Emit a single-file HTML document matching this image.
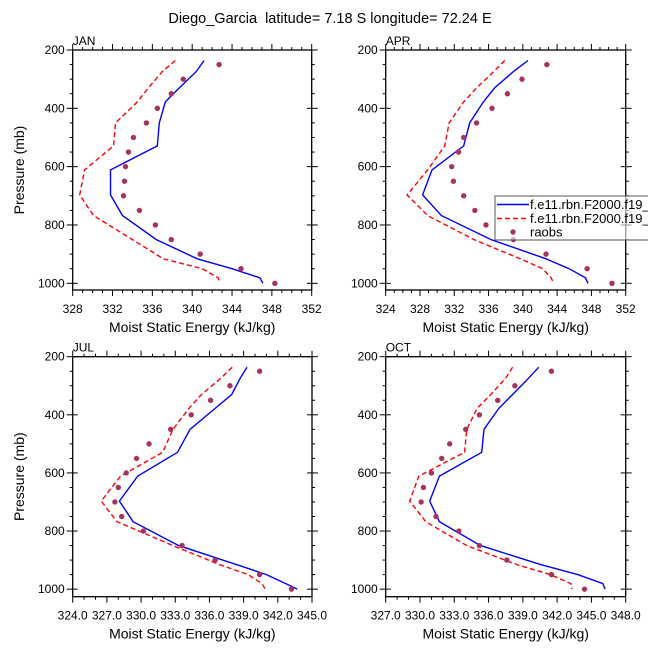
<!DOCTYPE html>
<html><head><meta charset="utf-8"><style>
html,body{margin:0;padding:0;background:#fff;}
svg{display:block;font-family:"Liberation Sans",Arial,sans-serif;}
</style></head><body>
<svg id="fig" width="648" height="649" viewBox="0 0 648 649" xmlns="http://www.w3.org/2000/svg">
<text x="330" y="23" font-size="14.5" text-anchor="middle" style="white-space:pre" xml:space="preserve">Diego_Garcia  latitude= 7.18 S longitude= 72.24 E</text>
</svg>
<script>
const modelLevels=[236,274,330,378,450,529,611,697,768,850,916,950,981,1000];
const obsLevels=[250,300,350,400,450,500,550,600,650,700,750,800,850,900,950,1000];
const janBlue=[341.2,340.4,338.7,337.3,336.7,336.5,331.8,331.8,333.0,336.4,340.5,344.0,346.8,347.1];
const janRed=[338.3,337.0,335.6,334.5,332.3,332.1,329.2,328.7,330.1,334.0,337.1,341.0,342.6,342.8];
const janObs=[342.7,339.1,337.9,336.5,335.4,334.1,333.6,333.3,333.2,333.1,334.7,336.3,337.9,340.8,344.9,348.3];
const aprBlue=[340.6,338.9,336.7,335.4,333.8,333.1,329.4,328.3,330.5,336.3,342.7,345.4,347.3,347.6];
const aprRed=[337.9,336.6,334.6,333.1,331.4,330.9,328.9,326.5,328.9,334.3,339.7,342.3,343.3,343.6];
const aprObs=[342.8,339.9,338.2,336.4,334.6,333.1,332.5,331.7,331.9,333.1,334.4,335.7,338.9,342.7,347.5,350.4];
const julBlue=[339.3,338.7,337.95,336.5,334.3,333.2,329.7,328.1,329.3,333.3,338.4,341.0,342.7,343.7];
const julRed=[338.0,337.0,335.3,334.2,332.8,331.9,328.2,326.5,327.9,332.8,336.9,339.4,340.6,340.9];
const julObs=[340.4,337.8,336.1,334.4,332.6,330.7,329.6,328.7,328.0,327.7,328.3,330.2,333.6,336.5,340.4,343.2];
const octBlue=[340.4,339.5,338.1,336.9,335.6,335.4,331.7,330.85,331.7,335.3,340.6,343.8,346.0,346.2];
const octRed=[338.1,337.5,336.2,335.0,334.1,333.9,329.9,329.1,330.5,334.1,338.5,341.4,343.2,343.3];
const octObs=[341.5,338.3,336.8,335.2,334.0,332.6,331.9,331.0,330.3,330.1,331.4,333.4,335.2,337.6,341.5,344.4];
const yTicks=[200,400,600,800,1000];
const janX=[328,332,336,340,344,348,352];
const aprX=[324,328,332,336,340,344,348,352];
const julX=[324,327,330,333,336,339,342,345];
const octX=[327,330,333,336,339,342,345,348];

const NS="http://www.w3.org/2000/svg";
const svg=document.getElementById('fig');
function mk(tag,attrs,parent){const e=document.createElementNS(NS,tag);for(const k in attrs)e.setAttribute(k,attrs[k]);(parent||svg).appendChild(e);return e;}

function panel(p){
  const g=mk('g',{});
  
  
  const xs=v=>p.x0+(v-p.xmin)/(p.xmax-p.xmin)*(p.x1-p.x0);
  const ys=v=>p.y0+(v-200)/(p.pbot-200)*(p.y1-p.y0);
  const L=p.x0,R=p.x1,T=p.y0,B=p.y1;
  const tg=mk('g',{stroke:'#000','stroke-width':1},g);
  for(let v=p.xmin;v<=p.xmax+1e-6;v+=p.minor){
    const isMaj=Math.abs(((v-p.xmin)/p.step)-Math.round((v-p.xmin)/p.step))<1e-6;
    const len=isMaj?6:3;const x=xs(v);
    mk('line',{x1:x,x2:x,y1:B,y2:B+len},tg);
    mk('line',{x1:x,x2:x,y1:T,y2:T-len},tg);
  }
  for(let v=200;v<=1000;v+=50){
    const isMaj=v%200===0;const y=ys(v);
    const len=isMaj?6:3;
    mk('line',{x1:L-len,x2:L+(isMaj?5:0),y1:y,y2:y},tg);
    mk('line',{x1:R+len,x2:R-(isMaj?5:0),y1:y,y2:y},tg);
  }
  mk('rect',{x:L,y:T,width:R-L,height:B-T,fill:'none',stroke:'#000','stroke-width':1.3},g);
  p.xt.forEach(v=>{const t=mk('text',{x:xs(v),y:B+23,'font-size':12,'text-anchor':'middle'},g);t.textContent=p.fmt(v);
    
    });
  yTicks.forEach(v=>{const t=mk('text',{x:L-8,y:ys(v)+4,'font-size':12,'text-anchor':'end'},g);t.textContent=v;
    
    });
  const pt=mk('text',{x:L,y:T-5,'font-size':12},g);pt.textContent=p.name;
  
  
  const xl=mk('text',{x:(L+R)/2,y:B+42,'font-size':14,'text-anchor':'middle'},g);xl.textContent='Moist Static Energy (kJ/kg)';
  
  
  if(p.ylab){const yl=mk('text',{x:0,y:0,'font-size':14,'text-anchor':'middle',transform:`translate(24,${(T+B)/2}) rotate(-90)`},g);yl.textContent='Pressure (mb)';
    
    }
  const line=(vals,col,dash,nm)=>{const d=vals.map((v,i)=>(i?'L':'M')+xs(v).toFixed(1)+' '+ys(modelLevels[i]).toFixed(1)).join(' ');
    const e=mk('path',{d:d,fill:'none',stroke:col,'stroke-width':1.4,'stroke-dasharray':dash||''},g);
    
    };
  line(p.red,'#f00','5,3','model-line-red');
  line(p.blue,'#00f',null,'model-line-blue');
  p.obs.forEach((v,i)=>{const c=mk('circle',{cx:xs(v),cy:ys(obsLevels[i]),r:2.7,fill:'#a8325e'},g);
    
    });
}
const f0=v=>String(v), f1=v=>v.toFixed(1);
panel({name:'JAN',x0:72.7,x1:311.7,y0:50,y1:290,pbot:1023,xmin:328,xmax:352,step:4,minor:1,xt:janX,fmt:f0,blue:janBlue,red:janRed,obs:janObs,ylab:true});
panel({name:'APR',x0:385.7,x1:625.7,y0:50,y1:290,pbot:1023,xmin:324,xmax:352,step:4,minor:1,xt:aprX,fmt:f0,blue:aprBlue,red:aprRed,obs:aprObs,ylab:false});
panel({name:'JUL',x0:72.7,x1:312,y0:356.7,y1:596.7,pbot:1026,xmin:324,xmax:345,step:3,minor:1,xt:julX,fmt:f1,blue:julBlue,red:julRed,obs:julObs,ylab:true});
panel({name:'OCT',x0:385.7,x1:625.7,y0:356.7,y1:596.7,pbot:1026,xmin:327,xmax:348,step:3,minor:1,xt:octX,fmt:f1,blue:octBlue,red:octRed,obs:octObs,ylab:false});
const lg=mk('g',{});


mk('rect',{x:495,y:196,width:160,height:44,fill:'#fff','fill-opacity':0.6,stroke:'#555','stroke-width':1},lg);
mk('line',{x1:497,x2:529,y1:204.5,y2:204.5,stroke:'#00f','stroke-width':1.4},lg);
mk('line',{x1:497,x2:529,y1:218.5,y2:218.5,stroke:'#f00','stroke-width':1.4,'stroke-dasharray':'5,3'},lg);
mk('circle',{cx:513,cy:232,r:2.7,fill:'#a8325e'},lg);
[['f.e11.rbn.F2000.f19_',209],['f.e11.rbn.F2000.f19_',223],['raobs',236.5]].forEach(([s,y])=>{const t=mk('text',{x:530,y:y,'font-size':13},lg);t.textContent=s;
  
  });
</script>
</body></html>
